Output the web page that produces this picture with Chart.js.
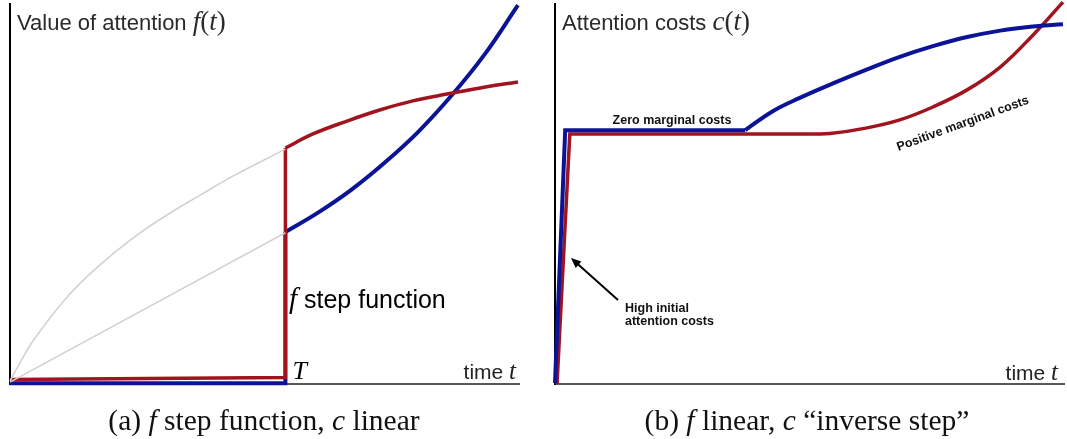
<!DOCTYPE html>
<html>
<head>
<meta charset="utf-8">
<script src="https://cdn.jsdelivr.net/npm/chart.js@4/dist/chart.umd.min.js"></script>
<style>
  html, body { margin: 0; padding: 0; background: #fff; }
  #wrap { position: relative; width: 1067px; height: 439px; }
  canvas { position: absolute; top: 0; }
</style>
</head>
<body>
<div id="wrap">
  <canvas id="chartA" width="535" height="439" style="left:0;width:535px;height:439px"></canvas>
  <canvas id="chartB" width="532" height="439" style="left:535px;width:532px;height:439px"></canvas>
</div>
<script>
'use strict';

// Both panels use a 0..100 scale on each axis (time, value)
// Panel (a): f step function, c linear
const stepT = 54;
const aGreyCurveX = [0, 1.6, 4.5, 11.2, 17.6, 24.1, 30.8, 37.3, 43.7, 54];
const aGreyCurveY = [0.8, 4.7, 11.3, 22.9, 31.3, 38.4, 44.5, 49.7, 54.7, 61.8];
const aGreyLineX = [0, 54];
const aGreyLineY = [0.5, 39.8];
const aRedStepX = [0, 54, 54];
const aRedStepY = [1.2, 1.7, 62.1];
const aRedCurveX = [54, 59.4, 66.1, 72.5, 79.0, 85.7, 92.2, 99.6];
const aRedCurveY = [62.1, 65.8, 69.2, 72.1, 74.5, 76.3, 77.9, 79.5];
const aBlueStepX = [0, 54, 54];
const aBlueStepY = [0.2, 0.2, 40];
const aBlueCurveX = [54, 60.4, 66.9, 73.5, 80.0, 86.7, 93.1, 99.6];
const aBlueCurveY = [40, 45.1, 51.1, 58.3, 66.3, 76.1, 86.8, 99.7];

// Panel (b): f linear, c "inverse step"
const bBlueStepX = [0, 2.0, 37.3];
const bBlueStepY = [0.3, 66.8, 66.8];
const bBlueCurveX = [37.3, 42.7, 48.0, 54.5, 61.2, 67.6, 74.1, 80.8, 87.3, 93.7, 99.6];
const bBlueCurveY = [66.8, 71.8, 75.3, 79.1, 82.8, 86.1, 88.9, 91.3, 93.0, 94.1, 94.7];
const bRedStepX = [0.4, 2.9, 50];
const bRedStepY = [0, 65.8, 65.8];
const bRedCurveX = [50, 53.9, 61.2, 67.6, 74.1, 80.8, 87.3, 93.7, 99.6];
const bRedCurveY = [65.8, 65.9, 67.4, 69.5, 72.9, 77.4, 83.4, 91.8, 100.5];

const RED = '#a0141f';
const BLUE = '#0b1496';
const GREY = '#d2d2d2';
const SANS = '"Liberation Sans", Arial, sans-serif';
const SERIF = '"Liberation Serif", "Times New Roman", serif';

function pts(xs, ys) {
    return xs.map((x, i) => ({ x: x, y: ys[i] }));
}

function series(xs, ys, color, width, tension) {
    return {
        data: pts(xs, ys),
        borderColor: color,
        borderWidth: width,
        pointRadius: 0,
        showLine: true,
        fill: false,
        tension: tension,
        borderJoinStyle: 'miter',
        clip: false
    };
}

// draw a row of text runs with different fonts
function drawRich(ctx, parts, x, y, align) {
    let total = 0;
    parts.forEach(p => { ctx.font = p.font; total += ctx.measureText(p.t).width; });
    let cx = align === 'center' ? x - total / 2 : (align === 'right' ? x - total : x);
    ctx.textAlign = 'left';
    ctx.textBaseline = 'alphabetic';
    parts.forEach(p => {
        ctx.font = p.font;
        ctx.fillText(p.t, cx, y);
        cx += ctx.measureText(p.t).width;
    });
}

function drawAxes(chart, ctx) {
    const x0 = chart.scales.x.getPixelForValue(0);
    const y0 = chart.scales.y.getPixelForValue(0);
    const { top, right } = chart.chartArea;
    ctx.save();
    ctx.strokeStyle = '#000';
    ctx.lineWidth = 2;
    ctx.beginPath();
    ctx.moveTo(x0, top - 1);
    ctx.lineTo(x0, y0 + 1);
    ctx.stroke();
    ctx.lineWidth = 1.5;
    ctx.strokeStyle = '#222';
    ctx.beginPath();
    ctx.moveTo(x0, y0);
    ctx.lineTo(right, y0);
    ctx.stroke();
    ctx.restore();
}

function title(ctx, label, fn, x) {
    drawRich(ctx, [
        { t: label, font: '22px ' + SANS },
        { t: fn, font: 'italic 27px ' + SERIF },
        { t: '(', font: '27px ' + SERIF },
        { t: 't', font: 'italic 27px ' + SERIF },
        { t: ')', font: '27px ' + SERIF }
    ], x, 30, 'left');
}

function timeLabel(ctx, x, y) {
    drawRich(ctx, [
        { t: 'time ', font: '21px ' + SANS },
        { t: 't', font: 'italic 25px ' + SERIF }
    ], x, y, 'right');
}

const CAP = '29.5px ' + SERIF;
const CAPI = 'italic 29.5px ' + SERIF;

const panelA = {
    id: 'panelA',
    beforeDatasetsDraw(chart) {
        drawAxes(chart, chart.ctx);
    },
    afterDraw(chart) {
        const ctx = chart.ctx;
        ctx.save();
        ctx.fillStyle = '#2a2a2a';
        title(ctx, 'Value of attention ', 'f', 17);
        ctx.fillStyle = '#000';
        drawRich(ctx, [
            { t: 'f', font: 'italic 29px ' + SERIF },
            { t: ' step function', font: '25px ' + SANS }
        ], 289, 308, 'left');
        const tx = chart.scales.x.getPixelForValue(stepT);
        drawRich(ctx, [{ t: 'T', font: 'italic 26px ' + SERIF }], tx + 7, 379, 'left');
        ctx.fillStyle = '#222';
        timeLabel(ctx, 516, 379);
        ctx.fillStyle = '#111';
        drawRich(ctx, [
            { t: '(a) ', font: CAP },
            { t: 'f', font: CAPI },
            { t: ' step function, ', font: CAP },
            { t: 'c', font: CAPI },
            { t: ' linear', font: CAP }
        ], 264, 430, 'center');
        ctx.restore();
    }
};

const panelB = {
    id: 'panelB',
    beforeDatasetsDraw(chart) {
        drawAxes(chart, chart.ctx);
    },
    afterDraw(chart) {
        const ctx = chart.ctx;
        ctx.save();
        ctx.fillStyle = '#2a2a2a';
        title(ctx, 'Attention costs ', 'c', 27);

        ctx.fillStyle = '#111';
        drawRich(ctx, [{ t: 'Zero marginal costs', font: 'bold 12.5px ' + SANS }], 137, 124, 'center');

        ctx.save();
        ctx.translate(429, 127);
        ctx.rotate(-20 * Math.PI / 180);
        drawRich(ctx, [{ t: 'Positive marginal costs', font: 'bold 12.5px ' + SANS }], 0, 0, 'center');
        ctx.restore();

        drawRich(ctx, [{ t: 'High initial', font: 'bold 12.5px ' + SANS }], 90, 312, 'left');
        drawRich(ctx, [{ t: 'attention costs', font: 'bold 12.5px ' + SANS }], 90, 325, 'left');

        // arrow pointing at the steep start
        const ax = 83, ay = 300, bx = 36, by = 258;
        const ang = Math.atan2(by - ay, bx - ax);
        ctx.strokeStyle = '#000';
        ctx.lineWidth = 2;
        ctx.beginPath();
        ctx.moveTo(ax, ay);
        ctx.lineTo(bx - 6 * Math.cos(ang), by - 6 * Math.sin(ang));
        ctx.stroke();
        ctx.fillStyle = '#000';
        ctx.beginPath();
        ctx.moveTo(bx, by);
        ctx.lineTo(bx - 11 * Math.cos(ang - 0.4), by - 11 * Math.sin(ang - 0.4));
        ctx.lineTo(bx - 11 * Math.cos(ang + 0.4), by - 11 * Math.sin(ang + 0.4));
        ctx.closePath();
        ctx.fill();

        ctx.fillStyle = '#222';
        timeLabel(ctx, 523, 380);
        ctx.fillStyle = '#111';
        drawRich(ctx, [
            { t: '(b) ', font: CAP },
            { t: 'f', font: CAPI },
            { t: ' linear, ', font: CAP },
            { t: 'c', font: CAPI },
            { t: ' \u201Cinverse step\u201D', font: CAP }
        ], 272, 430, 'center');
        ctx.restore();
    }
};

function baseOptions(padding) {
    return {
        responsive: false,
        animation: false,
        layout: { padding: padding },
        plugins: { legend: { display: false }, tooltip: { enabled: false } },
        scales: {
            x: { type: 'linear', min: 0, max: 100, display: false },
            y: { type: 'linear', min: 0, max: 100, display: false }
        }
    };
}

new Chart(document.getElementById('chartA'), {
    type: 'scatter',
    data: {
        datasets: [
            series(aGreyCurveX, aGreyCurveY, GREY, 1.6, 0.4),
            series(aGreyLineX, aGreyLineY, GREY, 1.6, 0),
            series(aRedStepX, aRedStepY, RED, 3.5, 0),
            series(aRedCurveX, aRedCurveY, RED, 3.5, 0.4),
            series(aBlueStepX, aBlueStepY, BLUE, 4, 0),
            series(aBlueCurveX, aBlueCurveY, BLUE, 4, 0.4)
        ]
    },
    options: baseOptions({ left: 10, right: 15, top: 4, bottom: 55 }),
    plugins: [panelA]
});

new Chart(document.getElementById('chartB'), {
    type: 'scatter',
    data: {
        datasets: [
            series(bBlueStepX, bBlueStepY, BLUE, 4, 0),
            series(bBlueCurveX, bBlueCurveY, BLUE, 4, 0.4),
            series(bRedStepX, bRedStepY, RED, 3.5, 0),
            series(bRedCurveX, bRedCurveY, RED, 3.5, 0.4)
        ]
    },
    options: baseOptions({ left: 20, right: 2, top: 4, bottom: 55 }),
    plugins: [panelB]
});
</script>
</body>
</html>
